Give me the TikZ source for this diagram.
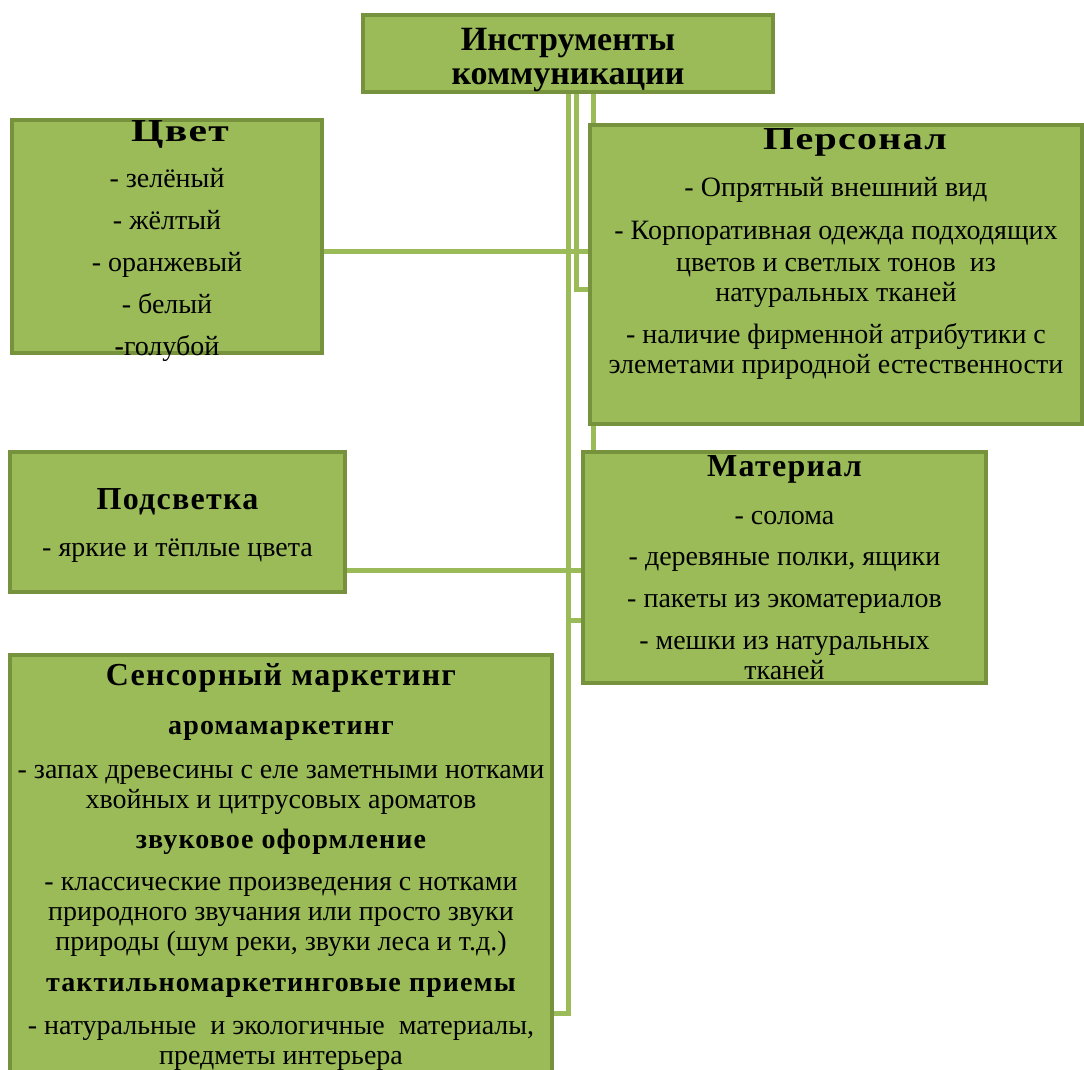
\documentclass[tikz,border=0pt]{standalone}
\usepackage{fontspec}
\setmainfont{Liberation Serif}
\usetikzlibrary{backgrounds}
\definecolor{boxfill}{HTML}{9BBB59}
\definecolor{boxline}{HTML}{76923C}
\tikzset{
  box/.style={draw=boxline, fill=boxfill, line width=1.8pt, align=center,
    inner xsep=0pt, inner ysep=-30pt, font=\fontsize{14}{15}\selectfont},
  link/.style={draw=boxfill, line width=2.5pt},
}
% titles; the optional argument widens the letters
\newcommand{\hd}[2][1]{{\fontsize{16}{15}\selectfont\bfseries
  \addfontfeature{LetterSpace=4,FakeStretch=#1}#2}}
\newcommand{\subhd}[1]{{\bfseries\addfontfeature{LetterSpace=4}#1}}
\begin{document}
\begin{tikzpicture}[x=0.5pt,y=-0.5pt]
  \useasboundingbox (0,0) rectangle (1084,1070);
  \node[box, minimum width=205pt, minimum height=38.5pt,
        font=\fontsize{17}{17}\selectfont\bfseries] (tools) at (568,53.5)
        {\rule{0pt}{17.5pt}Инструменты\\коммуникации};
  \node[box, minimum width=155pt, minimum height=116.5pt] (color) at (167,236.5)
        {\rule{0pt}{15pt}\hspace{13pt}\hd[1.3]{Цвет}\\[8pt] - зелёный\\[6pt] - жёлтый\\[6pt]
         - оранжевый\\[6pt] - белый\\[6pt] \textbf{-}голубой};
  \node[box, minimum width=246pt, minimum height=149.5pt] (pers) at (836,274.5)
        {\hspace{19pt}\hd[1.25]{Персонал}\\[8.5pt] - Опрятный внешний вид\\[6.5pt]
         - Корпоративная одежда подходящих\\[1pt]
         цветов и светлых тонов\ \ из\\ натуральных тканей\\[6pt]
         - наличие фирменной атрибутики с\\
         элеметами природной естественности\\[8pt]\mbox{}};
  \node[box, minimum width=167.5pt, minimum height=70pt] (light) at (177.5,522)
        {\rule{0pt}{14pt}\hd{Подсветка}\\[8.5pt] - яркие и тёплые цвета};
  \node[box, minimum width=201.5pt, minimum height=115.5pt] (mat) at (784.5,567.5)
        {\hd{Материал}\\[9pt] - солома\\[5.5pt] - деревяные полки, ящики\\[6pt]
         - пакеты из экоматериалов\\[6pt] - мешки из натуральных\\ тканей};
  \node[box, minimum width=271pt, minimum height=211.5pt] (sens) at (281,866.5)
        {\hd{Сенсорный маркетинг}\\[9.5pt]
         \subhd{аромамаркетинг}\\[7pt]
         - запах древесины с еле заметными нотками\\
         хвойных и цитрусовых ароматов\\[5pt]
         \subhd{звуковое оформление}\\[6pt]
         - классические произведения с нотками\\
         природного звучания или просто звуки\\
         природы (шум реки, звуки леса и т.д.)\\[5.5pt]
         \subhd{тактильномаркетинговые приемы}\\[6.5pt]
         - натуральные\ \ и экологичные\ \ материалы,\\
         предметы интерьера};
  \begin{pgfonlayer}{background}
    \draw[link] (tools.south -| 576,0) |- (pers.west |- 0,290);
    \draw[link] (tools.south -| 593,0) |- (color.east |- 0,252);
    \draw[link] (tools.south -| 593,0) |- (light.east |- 0,570);
    \draw[link] (tools.south -| 568,0) |- (mat.west |- 0,620);
    \draw[link] (tools.south -| 568,0) |- (sens.east |- 0,1013);
  \end{pgfonlayer}
\end{tikzpicture}
\end{document}
